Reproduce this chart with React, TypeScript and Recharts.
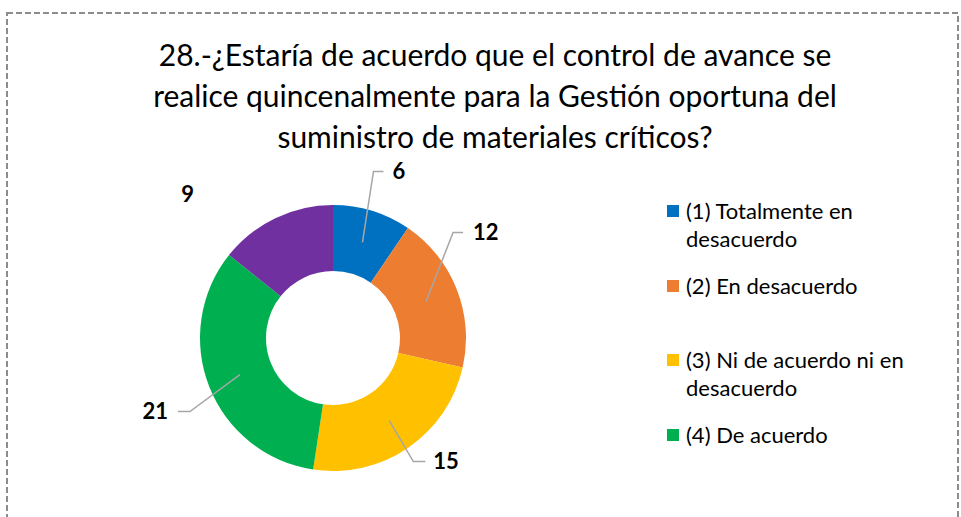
import React from 'react';
import { PieChart, Pie, Cell, Legend } from 'recharts';

const categories = [
  '(1) Totalmente en desacuerdo',
  '(2) En desacuerdo',
  '(3) Ni de acuerdo ni en desacuerdo',
  '(4) De acuerdo',
  '(5) Totalmente de acuerdo',
];
const counts = [6, 12, 15, 21, 9];
const colors = ['#0070C0', '#ED7D31', '#FFC000', '#00B050', '#7030A0'];
const titleLines = [
  '28.-¿Estaría de acuerdo que el control de avance se',
  'realice quincenalmente para la Gestión oportuna del',
  'suministro de materiales críticos?',
];

// only the first four legend entries fit in the box
const legendShown = 4;

// leader line layout per slice, relative to the slice's mid-ring point
const labelLayout = [
  { elbow: [11, -71], end: [21, -71], text: [30, -69], anchor: 'start', leader: true },
  { elbow: [27, -69], end: [37, -69], text: [47, -67], anchor: 'start', leader: true },
  { elbow: [24, 41], end: [36, 41], text: [44, 43], anchor: 'start', leader: true },
  { elbow: [-50, 37], end: [-62, 37], text: [-72, 39], anchor: 'end', leader: true },
  { elbow: [0, 0], end: [0, 0], text: [-102, -52], anchor: 'middle', leader: false },
];

const data = categories.map((name, i) => ({ name, value: counts[i] }));

const RAD = Math.PI / 180;

const renderLabel = (props: any) => {
  const { cx, cy, midAngle, innerRadius, outerRadius, index, value } = props;
  const r = (innerRadius + outerRadius) / 2;
  const sx = cx + r * Math.cos(-midAngle * RAD);
  const sy = cy + r * Math.sin(-midAngle * RAD);
  const l = labelLayout[index];
  return (
    <g key={`lbl-${index}`}>
      {l.leader && (
        <polyline
          points={`${sx},${sy} ${sx + l.elbow[0]},${sy + l.elbow[1]} ${sx + l.end[0]},${sy + l.end[1]}`}
          fill="none"
          stroke="#A6A6A6"
          strokeWidth={1.5}
        />
      )}
      <text
        x={sx + l.text[0]}
        y={sy + l.text[1]}
        textAnchor={l.anchor}
        dominantBaseline="middle"
        fontFamily="Lato, sans-serif"
        fontWeight={700}
        fontSize={22}
        fill="#000"
      >
        {value}
      </text>
    </g>
  );
};

const renderLegend = () => (
  <div style={{ fontFamily: 'Lato, sans-serif', fontSize: 22, color: '#000', width: 280 }}>
    {categories.slice(0, legendShown).map((c, i) => (
      <div key={c} style={{ display: 'flex', alignItems: 'flex-start', height: 74.5, lineHeight: '28px' }}>
        <span
          style={{
            display: 'inline-block',
            width: 12,
            height: 12,
            background: colors[i],
            marginTop: 8,
            marginRight: 7,
            flexShrink: 0,
          }}
        />
        <span style={{ width: 240 }}>{c}</span>
      </div>
    ))}
  </div>
);

export default function App() {
  return (
    <div style={{ position: 'absolute', left: 0, top: 0, width: 961, height: 517, overflow: 'hidden', background: '#fff' }}>
      <svg width={961} height={517} style={{ position: 'absolute', left: 0, top: 0 }}>
        <rect x={7} y={13} width={951} height={540} fill="none" stroke="#8C8C8C" strokeWidth={2} strokeDasharray="6 3" />
      </svg>
      <div
        style={{
          position: 'absolute',
          left: 0,
          top: 34,
          width: 990,
          textAlign: 'center',
          fontFamily: 'Lato, sans-serif',
          fontSize: 30,
          lineHeight: '41px',
          color: '#000',
        }}
      >
        {titleLines.map((t) => (
          <div key={t}>{t}</div>
        ))}
      </div>
      <div style={{ position: 'absolute', left: 0, top: 0 }}>
        <PieChart width={961} height={517}>
          <Pie
            data={data}
            dataKey="value"
            nameKey="name"
            cx={328}
            cy={333}
            innerRadius={67}
            outerRadius={133}
            startAngle={90}
            endAngle={-270}
            stroke="none"
            label={renderLabel}
            labelLine={false}
            isAnimationActive={false}
          >
            {data.map((d, i) => (
              <Cell key={d.name} fill={colors[i]} />
            ))}
          </Pie>
          <Legend
            layout="vertical"
            verticalAlign="top"
            align="right"
            content={renderLegend}
            wrapperStyle={{ left: 667, top: 197, width: 290 }}
          />
        </PieChart>
      </div>
    </div>
  );
}
